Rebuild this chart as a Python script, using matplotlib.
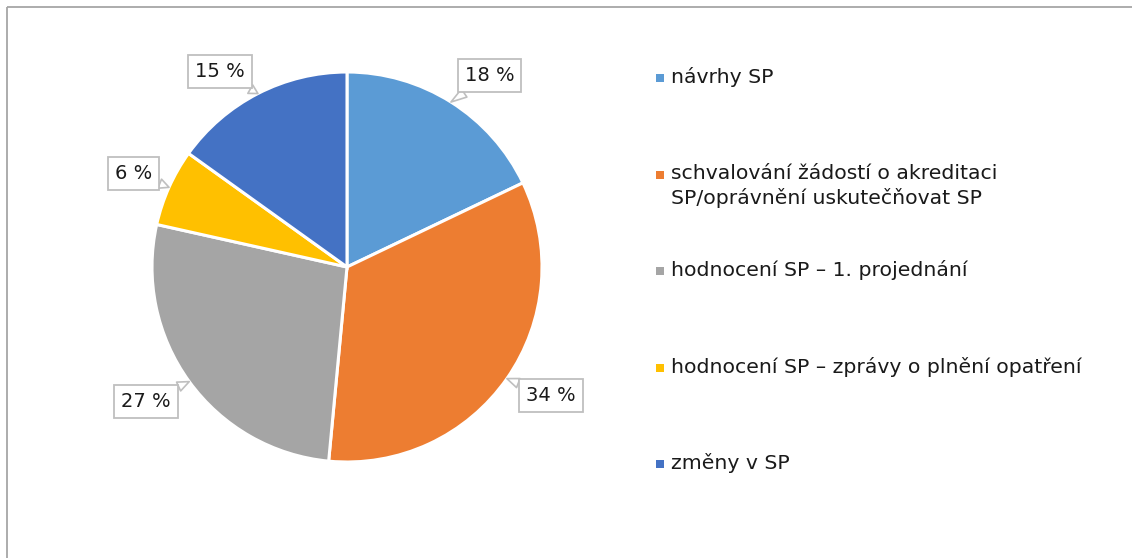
import numpy as np
import matplotlib.pyplot as plt
from matplotlib.patches import Rectangle

# data (share of agenda items, %)
categories = ['návrhy SP',
              'schvalování žádostí o akreditaci\nSP/oprávnění uskutečňovat SP',
              'hodnocení SP – 1. projednání',
              'hodnocení SP – zprávy o plnění opatření',
              'změny v SP']
shares = [17.9, 33.6, 27.0, 6.4, 15.1]
colors = ['#5B9BD5', '#ED7D31', '#A5A5A5', '#FFC000', '#4472C4']

# label box centres relative to the pie (radius = 1)
label_pos = [(0.73, 0.98), (1.045, -0.66), (-1.03, -0.69), (-1.095, 0.48), (-0.65, 1.0)]

plt.rcParams['font.family'] = ['DejaVu Sans']
text_color = '#1a1a1a'

fig = plt.figure(figsize=(11.32, 5.58), dpi=100)

# full-figure overlay in pixel coordinates for the frame and the legend
lax = fig.add_axes([0, 0, 1, 1])
lax.set_xlim(0, 1132)
lax.set_ylim(558, 0)
lax.axis('off')
lax.add_patch(Rectangle((6.5, 6.5), 1200, 600, fill=False, ec='#A6A6A6', lw=1.3))

# pie axes: centre ~ (347, 267) px, radius ~ 195 px
r_px = 195
cx, cy = 347, 267
ax = fig.add_axes([(cx - r_px) / 1132, (558 - cy - r_px) / 558, 2 * r_px / 1132, 2 * r_px / 558])
wedges, _ = ax.pie(shares, colors=colors, startangle=90, counterclock=False,
                   wedgeprops=dict(edgecolor='white', linewidth=2.2))
ax.set_xlim(-1, 1)
ax.set_ylim(-1, 1)
ax.set_aspect('auto')

for w, val, pos in zip(wedges, shares, label_pos):
    mid = np.deg2rad((w.theta1 + w.theta2) / 2)
    tip = (np.cos(mid), np.sin(mid))
    ax.annotate(f'{val:.0f} %', xy=tip, xytext=pos, ha='center', va='center',
                fontsize=14, color=text_color, annotation_clip=False,
                bbox=dict(boxstyle='square,pad=0.36', fc='white', ec='#BFBFBF', lw=1.3),
                arrowprops=dict(arrowstyle='wedge,tail_width=0.5,shrink_factor=0.5',
                                fc='white', ec='#BFBFBF', lw=1.2,
                                shrinkA=0, shrinkB=0))

# legend, drawn by hand to follow the spacing of the original
legend_y = [78, 175, 271, 368, 464]
for label, col, y in zip(categories, colors, legend_y):
    lax.scatter([660], [y], marker='s', s=40, color=col, linewidths=0)
    lax.text(671, y - 11, label, ha='left', va='top', fontsize=14.7,
             color=text_color, linespacing=1.32)

fig.savefig('out.png', dpi=100)
